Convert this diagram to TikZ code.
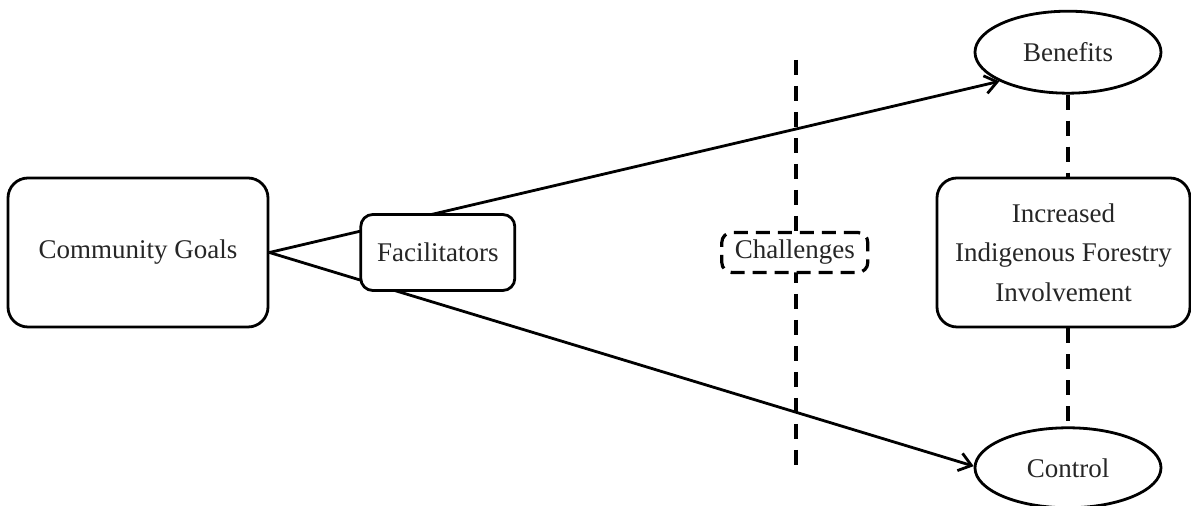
\documentclass[tikz,border=0pt]{standalone}
\usepackage{fontspec}
\setmainfont{Liberation Serif}
\usetikzlibrary{
    shapes.geometric, % For ellipse nodes
    arrows.meta,      % For arrow tip styles
    positioning,      % For relative positioning (right=of ...)
    backgrounds       % To draw behind nodes
}

\begin{document}
\begin{tikzpicture}[
    % Define styles
    every node/.style={font=\fontsize{13.5}{19.7}\selectfont, text=black!85},
    goalbox/.style={rectangle, draw, line width=1.4pt, fill=white, rounded corners=10pt, minimum width=130pt, minimum height=74.5pt, align=center, inner sep=2pt}, % Large boxes
    factor/.style={rectangle, draw, line width=1.4pt, fill=white, rounded corners=6pt, minimum width=77pt, minimum height=38pt, align=center}, % Facilitators
    barrier/.style={rectangle, draw, line width=1.6pt, dash pattern=on 7pt off 4pt, fill=white, rounded corners=5pt, minimum width=73pt, minimum height=20pt, inner sep=1pt}, % Challenges
    outcome/.style={ellipse, draw, line width=1.4pt, fill=white, minimum width=93pt, minimum height=41pt}, % Benefits / Control
    arrow/.style={line width=1.4pt, -{Straight Barb[length=6pt, width=9pt]}}, % Arrow style
    divider/.style={line width=1.8pt, dash pattern=on 7.5pt off 5.5pt} % Dashed lines
]

\useasboundingbox (0,0) rectangle (595.5pt,-253pt);

% ----- LEFT SIDE -----
\node (comm_goals) [goalbox] at (69pt,-126.25pt) {Community Goals};
\node (facil)      [factor, right=45pt of comm_goals] {Facilitators};
\node (chall)      [barrier, right=102pt of facil] {Challenges};

% ----- RIGHT SIDE -----
\node (ifi_box)    [goalbox, minimum width=126.5pt] at (531.75pt,-126.25pt) {Increased\\Indigenous Forestry\\Involvement};
\node (benefits)   [outcome, above=41pt of ifi_box, xshift=2.25pt] {Benefits};
\node (control)    [outcome, minimum height=40pt, below=49pt of ifi_box, xshift=2.25pt] {Control};

\coordinate (div_top) at (398pt,-30pt);
\coordinate (div_bot) at (398pt,-236pt);

% ----- CONNECTORS (behind the nodes) -----
\begin{pgfonlayer}{background}
    \draw [divider] (div_top) -- (div_bot);
    \draw [arrow] (comm_goals.east) -- (benefits.203);
    \draw [arrow] (comm_goals.east) -- (control.179);
\end{pgfonlayer}

\draw [divider] (benefits.south) -- (benefits.south |- ifi_box.north);
\draw [divider] (control.north |- ifi_box.south) -- (control.north);

\end{tikzpicture}
\end{document}
